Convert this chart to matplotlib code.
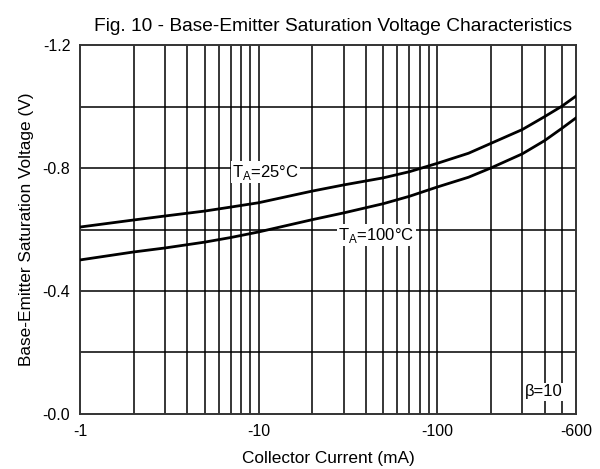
import matplotlib

matplotlib.use("Agg")
import matplotlib.pyplot as plt
import numpy as np
from matplotlib.ticker import FixedLocator, NullFormatter

# collector current magnitude (mA) and Vbe(sat) magnitude (V)
ic_ma = [1, 2, 3, 5, 7, 10, 20, 30, 50, 70, 100, 150, 200, 300, 400, 500, 600]
vbe_25c = [0.608, 0.631, 0.644, 0.660, 0.673, 0.687, 0.725, 0.745, 0.768, 0.788, 0.815,
           0.848, 0.880, 0.925, 0.967, 1.001, 1.034]
vbe_100c = [0.501, 0.527, 0.540, 0.559, 0.574, 0.592, 0.632, 0.654, 0.684, 0.708, 0.738,
            0.770, 0.800, 0.846, 0.889, 0.929, 0.963]

x_ticks = [1, 10, 100, 600]
x_tick_labels = ["-1", "-10", "-100", "-600"]
y_ticks = [0.0, 0.4, 0.8, 1.2]
y_tick_labels = ["-0.0", "-0.4", "-0.8", "-1.2"]

plt.rcParams["font.family"] = ["Liberation Sans", "DejaVu Sans"]

fig = plt.figure(figsize=(6.0, 4.69), dpi=100)
ax = fig.add_axes([0.1333, 0.1173, 0.8267, 0.7867])

ax.set_xscale("log")
ax.set_xlim(1, 600)
ax.set_ylim(0, 1.2)

# grid lines: all log minor positions and every 0.2 V
minor_x = [m * d for d in (1, 10, 100) for m in range(2, 10) if m * d < 600]
for xv in minor_x + [10, 100]:
    ax.axvline(xv, color="black", lw=1.1, zorder=1)
for yv in np.arange(0.2, 1.2, 0.2):
    ax.axhline(yv, color="black", lw=1.1, zorder=1)

ax.plot(ic_ma, vbe_25c, color="black", lw=2.0, zorder=3)
ax.plot(ic_ma, vbe_100c, color="black", lw=2.0, zorder=3)

ax.xaxis.set_major_locator(FixedLocator(x_ticks))
ax.xaxis.set_minor_locator(FixedLocator([]))
ax.xaxis.set_minor_formatter(NullFormatter())
ax.set_xticklabels(x_tick_labels)
ax.set_yticks(y_ticks)
ax.set_yticklabels(y_tick_labels)
ax.tick_params(length=0, labelsize=11.5, pad=7)
for s in ax.spines.values():
    s.set_linewidth(1.4)
    s.set_color("#333333")

box = dict(facecolor="white", edgecolor="none", pad=1.0)
ax.text(7.1, 0.787, "T$_\\mathregular{A}$=25°C", fontsize=12, ha="left", va="center",
        bbox=box, zorder=4)
ax.text(28, 0.582, "T$_\\mathregular{A}$=100°C", fontsize=12, ha="left", va="center",
        bbox=box, zorder=4)
ax.text(394, 0.072, "β=10", fontsize=12, ha="center", va="center", bbox=box, zorder=4)

ax.set_xlabel("Collector Current (mA)", fontsize=12.4, labelpad=9)
ax.set_ylabel("Base-Emitter Saturation Voltage (V)", fontsize=12.4, labelpad=6)
ax.set_title("Fig. 10 - Base-Emitter Saturation Voltage Characteristics", fontsize=13.8,
             pad=10, x=0.51)

fig.savefig("out.png", dpi=100)
